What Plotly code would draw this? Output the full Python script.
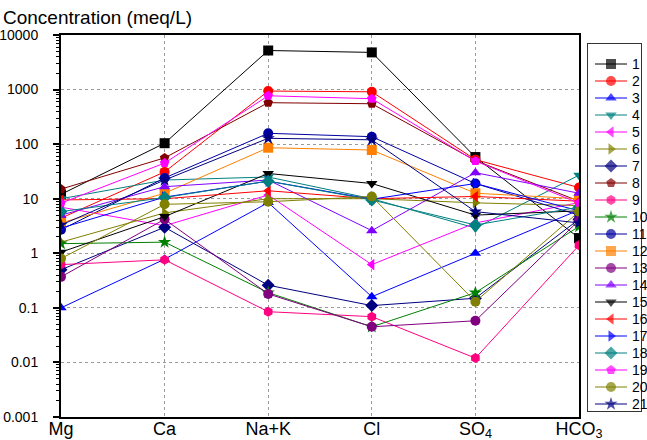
import plotly.graph_objects as go

# ---------------- data ----------------
categories = ["Mg", "Ca", "Na+K", "Cl", "SO4", "HCO3"]
tick_labels = ["Mg", "Ca", "Na+K", "Cl", "SO<sub>4</sub>", "HCO<sub>3</sub>"]
series_names = [str(i) for i in range(1, 22)]

s1 = [12, 104, 5200, 4800, 58, 1.9]
s2 = [4.4, 31, 940, 910, 52, 16]
s3 = [0.1, 0.78, 8.5, 0.16, 1.0, 6.2]
s4 = [10, 22, 25, 10, 2.9, 27]
s5 = [7, 3.2, 11.7, 0.62, 3.6, 8.5]
s6 = [1.6, 5.5, 10, 10, 8.4, 7.5]
s7 = [0.5, 3.0, 0.26, 0.11, 0.15, 4.2]
s8 = [15, 56, 575, 550, 50, 9]
s9 = [0.62, 0.76, 0.085, 0.069, 0.012, 1.4]
s10 = [1.5, 1.6, 0.19, 0.045, 0.19, 3.1]
s11 = [2.7, 24, 158, 137, 19, 5]
s12 = [3.6, 12.6, 86, 78, 12.6, 10]
s13 = [0.37, 4.2, 0.18, 0.045, 0.058, 4]
s14 = [5, 16.6, 22, 2.6, 30, 12.6]
s15 = [1.05, 4.7, 29, 19, 5, 6]
s16 = [9.5, 10, 14, 10, 11, 9]
s17 = [2.9, 10.7, 21, 9.8, 19, 6]
s18 = [5.8, 10.5, 21, 9.5, 3.3, 7]
s19 = [8.3, 45, 770, 680, 49, 8.3]
s20 = [0.8, 7.9, 8.8, 11, 0.13, 5.8]
s21 = [3.3, 22, 128, 120, 5.8, 3.6]
series_values = [s1, s2, s3, s4, s5, s6, s7, s8, s9, s10, s11,
                 s12, s13, s14, s15, s16, s17, s18, s19, s20, s21]

y_tickvals = [0.001, 0.01, 0.1, 1, 10, 100, 1000, 10000]
y_ticktext = ["0.001", "0.01", "0.1", "1", "10", "100", "1000", "10000"]

# ---------------- styles ----------------
colors = ["#000000", "#FF0000", "#0000FF", "#008080", "#FF00FF", "#808000",
          "#000080", "#800000", "#FF0080", "#008000", "#0000A0", "#FF8000",
          "#800080", "#8000FF", "#000000", "#FF0000", "#0000FF", "#008080",
          "#FF00FF", "#808000", "#000080"]
symbols = ["square", "circle", "triangle-up", "triangle-down", "triangle-left",
           "triangle-right", "diamond", "pentagon", "hexagon", "star", "circle",
           "square", "circle", "triangle-up", "triangle-down", "triangle-left",
           "triangle-right", "diamond", "pentagon", "circle", "star"]

FONT = "Arial, Liberation Sans, sans-serif"
W, H = 647, 440
ML, MT, MB = 61, 35, 23
plot_w = W - ML
main_right = 579
leg_l, leg_r, leg_t, leg_b = 588, 641, 44, 411
plot_top, plot_bot = MT, H - MB
plot_h = plot_bot - plot_top

fig = go.Figure()

for name, vals, c, sym in zip(series_names, series_values, colors, symbols):
    fig.add_trace(go.Scatter(
        x=categories, y=vals, name=name, mode="lines+markers",
        line=dict(color=c, width=1),
        marker=dict(symbol=sym, size=10, color=c, line=dict(width=0)),
        xaxis="x", yaxis="y", showlegend=False,
    ))

# custom legend drawn on its own small axes
leg_step = 17.0
first_y = 64
for i, (name, c, sym) in enumerate(zip(series_names, colors, symbols)):
    fig.add_trace(go.Scatter(
        x=[7, 23, 39], y=[i, i, i], mode="lines+markers",
        line=dict(color=c, width=1),
        marker=dict(symbol=sym, size=[0, 10, 0], color=c, line=dict(width=0)),
        xaxis="x2", yaxis="y2", showlegend=False, hoverinfo="skip",
    ))
    fig.add_annotation(x=42, y=i, xref="x2", yref="y2", text=name,
                       showarrow=False, xanchor="left", yanchor="middle",
                       font=dict(family=FONT, size=14, color="black"))

y2_top = (leg_t - first_y) / leg_step
y2_bot = (leg_b - first_y) / leg_step

fig.update_layout(
    width=W, height=H,
    margin=dict(l=ML, r=0, t=MT, b=MB, autoexpand=False),
    paper_bgcolor="white", plot_bgcolor="white",
    font=dict(family=FONT, color="black"),
    title=dict(text="Concentration (meq/L)", xref="container", yref="container",
               x=3 / W, y=1 - 17 / H, xanchor="left", yanchor="middle",
               font=dict(family=FONT, size=19, color="black")),
    xaxis=dict(
        domain=[0, (main_right - ML) / plot_w],
        type="category", categoryorder="array", categoryarray=categories,
        range=[0, 5], tickmode="array", tickvals=categories, ticktext=tick_labels,
        showgrid=True, gridcolor="#9a9a9a", griddash="dot", gridwidth=1,
        showline=True, linecolor="black", linewidth=2, mirror=True,
        ticks="", tickfont=dict(family=FONT, size=18, color="black"),
        ticklabelstandoff=-6,
        zeroline=False, anchor="y", automargin=False,
    ),
    yaxis=dict(
        type="log", range=[-3, 4], tickmode="array",
        tickvals=y_tickvals, ticktext=y_ticktext,
        showgrid=True, gridcolor="#9a9a9a", griddash="dot", gridwidth=1,
        showline=True, linecolor="black", linewidth=2, mirror=True,
        ticks="outside", ticklen=6, tickwidth=1.5, tickcolor="black",
        minor=dict(ticks="outside", ticklen=3, tickwidth=1, tickcolor="black",
                   dtick="D1", showgrid=False),
        ticklabelstandoff=12,
        tickfont=dict(family=FONT, size=14, color="black"),
        zeroline=False, anchor="x", automargin=False,
    ),
    xaxis2=dict(
        domain=[(leg_l - ML) / plot_w, (leg_r - ML) / plot_w],
        range=[0, leg_r - leg_l], showgrid=False, zeroline=False,
        showticklabels=False, ticks="", showline=True, mirror=True,
        linecolor="#333333", linewidth=1, anchor="y2", fixedrange=True,
        automargin=False,
    ),
    yaxis2=dict(
        domain=[(plot_bot - leg_b) / plot_h, (plot_bot - leg_t) / plot_h],
        range=[y2_bot, y2_top], showgrid=False, zeroline=False,
        showticklabels=False, ticks="", showline=True, mirror=True,
        linecolor="#333333", linewidth=1, anchor="x2", fixedrange=True,
        automargin=False,
    ),
    showlegend=False,
)

fig.write_html(
    "out.html",
    config={"displayModeBar": False},
    post_script="document.body.style.margin='0px';document.body.style.overflow='hidden';",
)
